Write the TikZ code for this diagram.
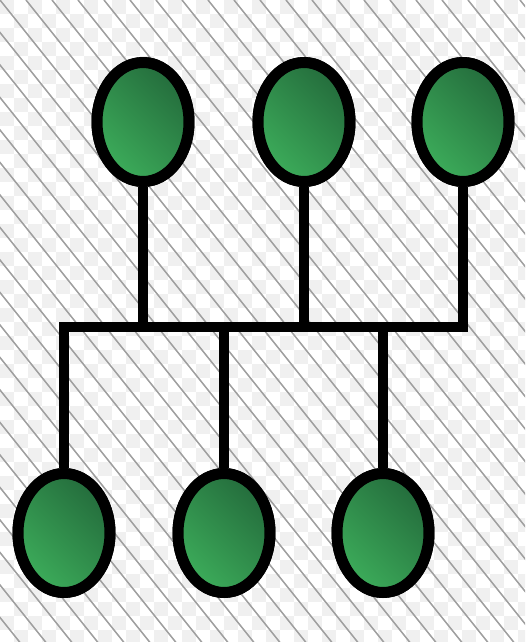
\documentclass[tikz,border=0pt]{standalone}
\usepackage{tikz}
\usetikzlibrary{shapes.geometric}

\definecolor{nodedark}{RGB}{36,108,60}
\definecolor{nodelight}{RGB}{60,172,90}
\definecolor{hatch}{RGB}{160,160,160}

\begin{document}
\begin{tikzpicture}[
  x=0.02cm, y=-0.02cm,
  station/.style={draw, ellipse, line width=0.22cm, minimum width=1.84cm,
  minimum height=2.38cm, top color=nodedark, bottom color=nodelight,
  shading angle=-45},
  wire/.style={draw, line width=0.2cm, line join=miter}
]
\useasboundingbox (0,0) rectangle (525,642);

% background: checks and hatching
\begin{scope}
\clip (0,0) rectangle (525,642);
\fill[white] (0,0) rectangle (525,642);
\foreach \i in {0,...,37} {
  \pgfmathtruncatemacro\off{mod(\i,2)}
  \foreach \j in {0,2,...,46}
    \fill[black!6] (\i*14, {(\j+\off)*14}) rectangle ++(14,14);
}
\foreach \i in {-21,...,21}
  \draw[hatch, line width=0.03cm] (\i*26, 0) -- ++(560,700);
\end{scope}

% stations
\node[station] (topA) at (143,122) {};
\node[station] (topB) at (304,122) {};
\node[station] (topC) at (463,122) {};
\node[station] (botA) at (64,533) {};
\node[station] (botB) at (224,533) {};
\node[station] (botC) at (383,533) {};

% bus
\coordinate (busL) at (64,327);
\coordinate (busR) at (463,327);
\draw[wire] (topC.south) -- (busR) -- (busL) -- (botA.north);
\draw[wire] (topA.south) -- (topA |- busL);
\draw[wire] (topB.south) -- (topB |- busL);
\draw[wire] (botB.north) -- (botB |- busL);
\draw[wire] (botC.north) -- (botC |- busL);

% redraw the stations over the wire ends
\node[station] at (topA) {};
\node[station] at (topB) {};
\node[station] at (topC) {};
\node[station] at (botA) {};
\node[station] at (botB) {};
\node[station] at (botC) {};

\end{tikzpicture}
\end{document}
